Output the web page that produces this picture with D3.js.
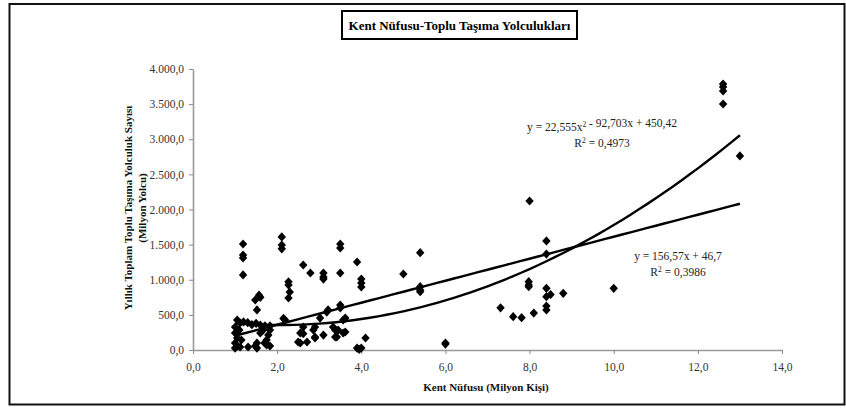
<!DOCTYPE html>
<html>
<head>
<meta charset="utf-8">
<script src="https://cdn.jsdelivr.net/npm/d3@7"></script>
<style>
  body { margin: 0; background: #fff; }
  svg text { font-family: "Liberation Serif", "Times New Roman", serif; }
</style>
</head>
<body>
<div id="chart"></div>
<script>
/* Kent nüfusu - toplu taşıma yolculukları, scatter with two trendlines */

// population (million people)
var popX = [
  1.19, 1.19, 1.19, 1.19,
  1.05, 1.12, 1.0, 1.0, 1.05, 1.0, 1.12, 1.0, 1.05, 1.15, 1.1, 1.2,
  1.31, 1.3, 1.4, 1.5,
  1.48, 1.6, 1.52, 1.57,
  1.52, 1.52, 1.48,
  1.6, 1.67, 1.75, 1.79, 1.83, 1.75, 1.83, 1.6, 1.71, 1.83, 1.7,
  2.11, 2.11, 2.11,
  2.27, 2.27, 2.3, 2.27,
  2.19, 2.15,
  2.62, 2.79,
  3.1, 3.1, 3.1,
  3.5, 3.5, 3.5,
  3.9, 4.0, 4.0, 4.0,
  4.1, 3.9, 4.0, 3.95,
  2.62, 2.71, 2.9, 3.1, 3.38, 3.57,
  2.55, 2.5, 2.55, 2.62, 2.86, 2.9, 2.9,
  3.18, 3.21, 3.02, 3.33, 3.38, 3.45, 3.5, 3.5, 3.42, 3.57, 3.62, 3.62,
  5.4, 5.4, 5.4, 5.4, 5.0, 6.0, 6.0,
  7.31, 7.61, 7.81, 8.1, 7.98, 7.98, 7.98, 8.0,
  8.4, 8.4, 8.4, 8.4, 8.5, 8.4, 8.4, 8.8,
  10.0,
  12.6, 12.6, 12.6, 12.6, 13.0
];
// yearly trips (million passengers)
var tripsY = [
  1509, 1352, 1310, 1068,
  427, 384, 327, 242, 171, 100, 43, 28, 57, 142, 285, 400,
  43, 390, 360, 380,
  712, 750, 570, 780,
  100, 28, 57,
  242, 285, 142, 213, 285, 71, 57, 356, 342, 342, 100,
  1610, 1495, 1440,
  970, 925, 825, 740,
  427, 450,
  1210, 1096,
  1096, 1040, 1010,
  1509, 1452, 1096,
  1253, 1010, 953, 897,
  171, 28, 28, 10,
  233, 114, 185, 213, 185, 242,
  242, 114, 100, 327, 285, 327, 171,
  540, 570, 455, 327, 285, 285, 640, 598, 185, 427, 455, 256,
  1385, 901, 854, 830, 1082, 85, 100,
  600, 474, 460, 525, 972, 925, 901, 2121,
  1552, 1366, 878, 759, 790, 626, 570, 807,
  878,
  3786, 3744, 3687, 3502, 2762
];

var xTicks = [0, 2, 4, 6, 8, 10, 12, 14];
var yTicks = [0, 500, 1000, 1500, 2000, 2500, 3000, 3500, 4000];

// trendline coefficients as printed on the chart
var linCoef = [46.7, 156.57];              // a + b x
var quadCoef = [450.42, -92.703, 22.555];  // a + b x + c x^2
var trendRange = [1.0, 13.0];

var W = 846, H = 408;
var svg = d3.select("#chart").append("svg")
  .attr("width", W).attr("height", H);

// outer frame
svg.append("rect")
  .attr("x", 9.5).attr("y", 4).attr("width", 835).attr("height", 400.5)
  .attr("fill", "none").attr("stroke", "#111").attr("stroke-width", 2);

// title box
svg.append("rect")
  .attr("x", 342).attr("y", 11).attr("width", 235).attr("height", 28)
  .attr("fill", "#fff").attr("stroke", "#000").attr("stroke-width", 2);
svg.append("text")
  .attr("x", 459.5).attr("y", 29.5)
  .attr("text-anchor", "middle")
  .style("font-size", "13px").style("font-weight", "bold")
  .text("Kent Nüfusu-Toplu Taşıma Yolculukları");

var x = d3.scaleLinear().domain([0, 14]).range([193, 782]);
var y = d3.scaleLinear().domain([0, 4000]).range([350, 69]);

var trLocale = d3.formatLocale({decimal: ",", thousands: ".", grouping: [3], currency: ["", ""]});
var fmt = trLocale.format(",.1f");

var yAxis = d3.axisLeft(y).tickValues(yTicks).tickFormat(fmt)
  .tickSizeInner(4).tickSizeOuter(0).tickPadding(5);
var xAxis = d3.axisBottom(x).tickValues(xTicks).tickFormat(fmt)
  .tickSizeInner(4).tickSizeOuter(0).tickPadding(9);

var gy = svg.append("g").attr("transform", `translate(${x(0)},0)`).call(yAxis);
var gx = svg.append("g").attr("transform", `translate(0,${y(0)})`).call(xAxis);
[gx, gy].forEach(function(g) {
  g.select(".domain").attr("stroke", "#9a9a9a").attr("stroke-width", 1.6);
  g.selectAll(".tick line").attr("stroke", "#8a8a8a");
  g.selectAll(".tick text")
    .style("font-family", "'Liberation Serif', 'Times New Roman', serif")
    .style("font-size", "11.5px").attr("fill", "#333");
});

// axis titles
var yt = svg.append("text")
  .attr("transform", "translate(132,208) rotate(-90)")
  .attr("text-anchor", "middle")
  .style("font-size", "11px").style("font-weight", "bold").attr("fill", "#111");
yt.append("tspan").attr("x", 0).attr("y", 0)
  .text("Yıllık Toplam Toplu Taşıma Yolculuk Sayısı");
yt.append("tspan").attr("x", 0).attr("y", 14).text("(Milyon Yolcu)");

svg.append("text")
  .attr("x", 486).attr("y", 391)
  .attr("text-anchor", "middle")
  .style("font-size", "11px").style("font-weight", "bold").attr("fill", "#111")
  .text("Kent Nüfusu (Milyon Kişi)");

// trendlines
var steps = d3.range(0, 61).map(function(i) {
  return trendRange[0] + (trendRange[1] - trendRange[0]) * i / 60;
});
var line = d3.line().x(function(d) { return x(d[0]); }).y(function(d) { return y(d[1]); });

svg.append("path")
  .datum(steps.map(function(v) { return [v, linCoef[0] + linCoef[1] * v]; }))
  .attr("d", line).attr("fill", "none")
  .attr("stroke", "#000").attr("stroke-width", 2.4);
svg.append("path")
  .datum(steps.map(function(v) { return [v, quadCoef[0] + quadCoef[1] * v + quadCoef[2] * v * v]; }))
  .attr("d", line).attr("fill", "none")
  .attr("stroke", "#000").attr("stroke-width", 2.4);

// points
var diamond = "M0,-4.6L4.2,0L0,4.6L-4.2,0Z";
svg.append("g").selectAll("path")
  .data(popX.map(function(v, i) { return [v, tripsY[i]]; }))
  .enter().append("path")
  .attr("transform", function(d) { return `translate(${x(d[0])},${y(d[1])})`; })
  .attr("d", diamond)
  .attr("fill", "#000");

// equation labels
function eqLabel(cx, cy, parts, r2) {
  var t = svg.append("text")
    .attr("x", cx).attr("y", cy).attr("text-anchor", "middle")
    .style("font-size", "11.5px").attr("fill", "#222");
  parts.forEach(function(p) {
    if (p.sup) {
      t.append("tspan").attr("dy", "-4").style("font-size", "7.5px").text(p.s);
      t.append("tspan").attr("dy", "4").text("");
    } else {
      t.append("tspan").text(p.s);
    }
  });
  var t2 = svg.append("text")
    .attr("x", cx).attr("y", cy + 16).attr("text-anchor", "middle")
    .style("font-size", "11.5px").attr("fill", "#222");
  t2.append("tspan").text("R");
  t2.append("tspan").attr("dy", "-4").style("font-size", "7.5px").text("2");
  t2.append("tspan").attr("dy", "4").text(" = " + r2);
}

eqLabel(602, 131, [
  {s: "y = 22,555x"}, {s: "2", sup: true}, {s: " - 92,703x + 450,42"}
], "0,4973");
eqLabel(678, 260, [{s: "y = 156,57x + 46,7"}], "0,3986");
</script>
</body>
</html>
